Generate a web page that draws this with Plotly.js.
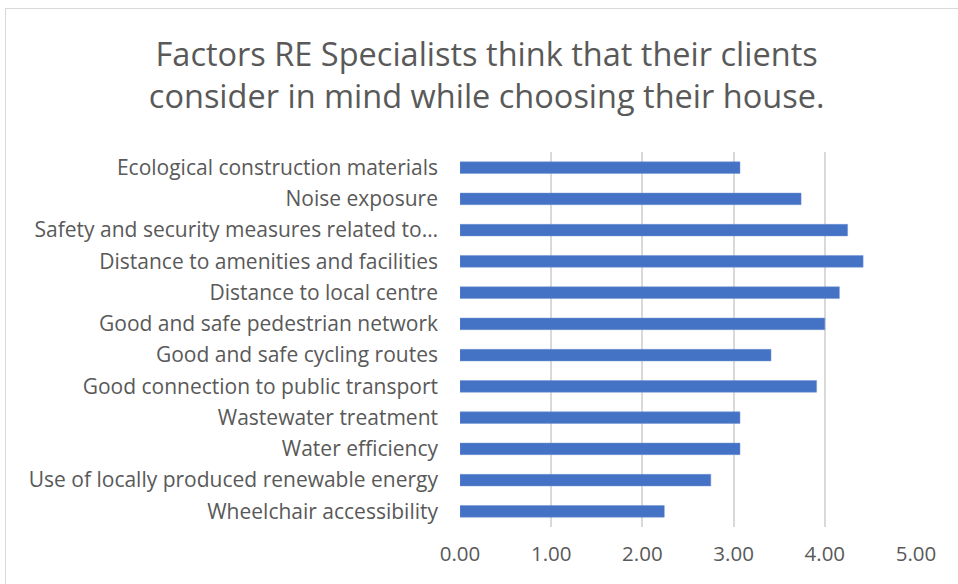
<!DOCTYPE html>
<html>
<head>
<meta charset="utf-8">
<script src="https://cdn.plot.ly/plotly-3.0.1.min.js"></script>
<style>
html,body{margin:0;padding:0;background:#fff;}
#wrap{position:relative;width:958px;height:584px;overflow:hidden;}
#chart{width:958px;height:584px;}
#frame{position:absolute;left:5px;top:8px;width:980px;height:600px;border:1px solid #d9d9d9;pointer-events:none;}
</style>
</head>
<body>
<div id="wrap"><div id="chart"></div><div id="frame"></div></div>
<script>
const categories = [
  "Ecological construction materials",
  "Noise exposure",
  "Safety and security measures related to…",
  "Distance to amenities and facilities",
  "Distance to local centre",
  "Good and safe pedestrian network",
  "Good and safe cycling routes",
  "Good connection to public transport",
  "Wastewater treatment",
  "Water efficiency",
  "Use of locally produced renewable energy",
  "Wheelchair accessibility"
];
const values = [3.07, 3.74, 4.25, 4.42, 4.16, 4.00, 3.41, 3.91, 3.07, 3.07, 2.75, 2.24];
const xTicks = [0, 1, 2, 3, 4, 5];
const xTickLabels = ["0.00", "1.00", "2.00", "3.00", "4.00", "5.00"];
const titleText = "Factors RE Specialists think that their clients<br>consider in mind while choosing their house.";

const font = "'Open Sans', sans-serif";
Plotly.newPlot("chart", [{
  type: "bar",
  orientation: "h",
  x: values,
  y: categories,
  marker: {color: "#4472C4", line: {color: "#6f93d4", width: 0.5}},
  hoverinfo: "x+y"
}], {
  width: 958, height: 584,
  margin: {l: 459.5, r: 42.3, t: 152.4, b: 57.4, pad: 0},
  paper_bgcolor: "#ffffff",
  plot_bgcolor: "#ffffff",
  bargap: 0.63,
  showlegend: false,
  title: {
    text: titleText,
    xref: "container", x: 0.508, xanchor: "center",
    yref: "container", y: 0.887, yanchor: "middle",
    font: {family: font, size: 32.5, color: "#595959"}
  },
  xaxis: {
    range: [0, 5],
    tickvals: xTicks,
    ticktext: xTickLabels,
    showgrid: true,
    gridcolor: "#d9d9d9",
    gridwidth: 2,
    zeroline: false,
    showline: false,
    ticks: "",
    ticklabelstandoff: 12,
    tickfont: {family: font, size: 20.5, color: "#595959"},
    fixedrange: true
  },
  yaxis: {
    categoryorder: "array",
    categoryarray: categories.slice().reverse(),
    autorange: false,
    range: [-0.5, 11.5],
    showgrid: false,
    zeroline: false,
    showline: false,
    ticks: "",
    ticklabelstandoff: 21,
    tickfont: {family: font, size: 21, color: "#595959"},
    fixedrange: true
  }
}, {displayModeBar: false, staticPlot: true});
</script>
</body>
</html>
